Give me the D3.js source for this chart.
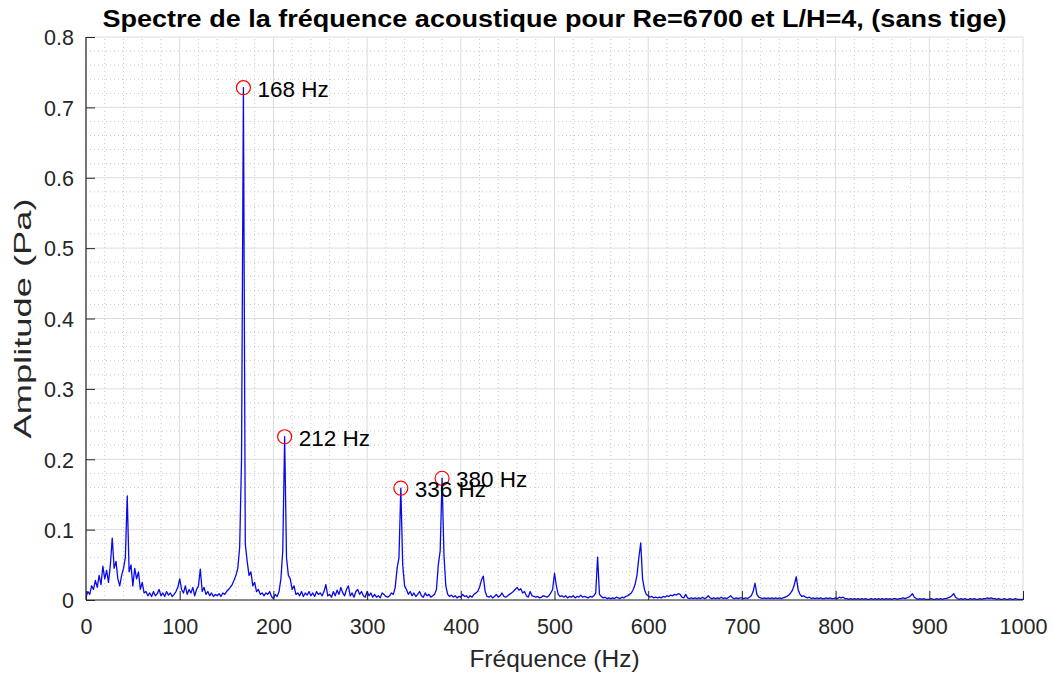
<!DOCTYPE html>
<html>
<head>
<meta charset="utf-8">
<script src="https://cdn.jsdelivr.net/npm/d3@7/dist/d3.min.js"></script>
<style>
  html, body { margin: 0; padding: 0; background: #ffffff; }
  svg { display: block; font-family: "Liberation Sans", Arial, Helvetica, sans-serif; }
</style>
</head>
<body>
<svg id="chart" width="1053" height="673"></svg>
<script>
// Spectrum sampled every 2 Hz from 0 to 1000 Hz; one row per 100 Hz band.
const freqStep = 2;
const amplitude = [
  // 0 - 98 Hz
  0.004, 0.012, 0.008, 0.020, 0.015, 0.028, 0.018, 0.035, 0.022, 0.048,
  0.030, 0.042, 0.025, 0.050, 0.088, 0.045, 0.055, 0.030, 0.020, 0.035,
  0.045, 0.060, 0.148, 0.040, 0.050, 0.020, 0.045, 0.030, 0.040, 0.015,
  0.025, 0.010, 0.012, 0.006, 0.010, 0.005, 0.012, 0.006, 0.009, 0.015,
  0.006, 0.010, 0.005, 0.012, 0.007, 0.010, 0.005, 0.008, 0.012, 0.018,
  // 100 - 198 Hz
  0.030, 0.015, 0.010, 0.020, 0.008, 0.015, 0.010, 0.018, 0.006, 0.015,
  0.020, 0.044, 0.012, 0.018, 0.008, 0.012, 0.006, 0.010, 0.005, 0.008,
  0.006, 0.009, 0.005, 0.010, 0.008, 0.012, 0.015, 0.018, 0.022, 0.028,
  0.035, 0.045, 0.075, 0.200, 0.728, 0.080, 0.055, 0.035, 0.040, 0.020,
  0.025, 0.012, 0.015, 0.008, 0.010, 0.006, 0.010, 0.008, 0.012, 0.005,
  // 200 - 298 Hz
  0.002, 0.008, 0.005, 0.012, 0.030, 0.070, 0.232, 0.060, 0.035, 0.030,
  0.015, 0.020, 0.008, 0.010, 0.006, 0.012, 0.005, 0.010, 0.007, 0.012,
  0.006, 0.010, 0.005, 0.012, 0.008, 0.010, 0.006, 0.012, 0.022, 0.006,
  0.008, 0.004, 0.012, 0.006, 0.014, 0.008, 0.018, 0.010, 0.006, 0.015,
  0.020, 0.006, 0.010, 0.004, 0.012, 0.015, 0.008, 0.012, 0.006, 0.004,
  // 300 - 398 Hz
  0.012, 0.006, 0.010, 0.004, 0.008, 0.004, 0.006, 0.003, 0.010, 0.008,
  0.005, 0.004, 0.006, 0.010, 0.008, 0.018, 0.045, 0.060, 0.159, 0.050,
  0.020, 0.015, 0.008, 0.012, 0.006, 0.010, 0.005, 0.008, 0.012, 0.006,
  0.004, 0.010, 0.006, 0.008, 0.004, 0.006, 0.008, 0.015, 0.050, 0.070,
  0.173, 0.065, 0.020, 0.008, 0.005, 0.007, 0.004, 0.006, 0.003, 0.005,
  // 400 - 498 Hz
  0.004, 0.008, 0.005, 0.006, 0.003, 0.006, 0.004, 0.008, 0.010, 0.012,
  0.018, 0.028, 0.034, 0.012, 0.005, 0.004, 0.006, 0.003, 0.005, 0.008,
  0.004, 0.006, 0.010, 0.005, 0.004, 0.006, 0.008, 0.010, 0.012, 0.015,
  0.018, 0.014, 0.016, 0.010, 0.012, 0.006, 0.004, 0.012, 0.006, 0.005,
  0.004, 0.005, 0.003, 0.004, 0.006, 0.005, 0.004, 0.006, 0.010, 0.015,
  // 500 - 598 Hz
  0.038, 0.020, 0.008, 0.005, 0.006, 0.004, 0.006, 0.003, 0.005, 0.004,
  0.006, 0.003, 0.005, 0.004, 0.007, 0.004, 0.005, 0.004, 0.003, 0.005,
  0.004, 0.006, 0.010, 0.061, 0.008, 0.005, 0.003, 0.004, 0.002, 0.003,
  0.002, 0.003, 0.002, 0.004, 0.003, 0.002, 0.004, 0.003, 0.005, 0.006,
  0.008, 0.010, 0.015, 0.022, 0.035, 0.060, 0.081, 0.030, 0.015, 0.008,
  // 600 - 698 Hz
  0.006, 0.004, 0.005, 0.003, 0.004, 0.003, 0.004, 0.003, 0.005, 0.004,
  0.006, 0.005, 0.007, 0.006, 0.008, 0.007, 0.009, 0.008, 0.004, 0.003,
  0.008, 0.003, 0.002, 0.003, 0.002, 0.003, 0.002, 0.003, 0.002, 0.004,
  0.002, 0.003, 0.006, 0.003, 0.002, 0.003, 0.002, 0.003, 0.002, 0.004,
  0.002, 0.003, 0.002, 0.004, 0.006, 0.003, 0.002, 0.003, 0.002, 0.003,
  // 700 - 798 Hz
  0.003, 0.002, 0.003, 0.002, 0.004, 0.006, 0.012, 0.024, 0.008, 0.004,
  0.003, 0.002, 0.003, 0.002, 0.003, 0.002, 0.003, 0.002, 0.003, 0.002,
  0.003, 0.002, 0.003, 0.004, 0.005, 0.007, 0.010, 0.014, 0.022, 0.033,
  0.015, 0.008, 0.005, 0.006, 0.004, 0.003, 0.004, 0.002, 0.003, 0.002,
  0.003, 0.002, 0.003, 0.002, 0.002, 0.003, 0.002, 0.003, 0.002, 0.002,
  // 800 - 898 Hz
  0.003, 0.002, 0.004, 0.003, 0.004, 0.002, 0.002, 0.001, 0.002, 0.001,
  0.002, 0.001, 0.002, 0.001, 0.002, 0.001, 0.002, 0.001, 0.001, 0.002,
  0.001, 0.002, 0.001, 0.002, 0.001, 0.002, 0.001, 0.002, 0.001, 0.002,
  0.001, 0.002, 0.002, 0.001, 0.002, 0.002, 0.003, 0.002, 0.003, 0.004,
  0.006, 0.009, 0.004, 0.002, 0.001, 0.002, 0.001, 0.002, 0.001, 0.001,
  // 900 - 1000 Hz
  0.001, 0.002, 0.001, 0.001, 0.002, 0.001, 0.002, 0.001, 0.002, 0.002,
  0.003, 0.004, 0.006, 0.009, 0.004, 0.002, 0.001, 0.002, 0.001, 0.002,
  0.001, 0.001, 0.002, 0.001, 0.002, 0.001, 0.001, 0.002, 0.001, 0.002,
  0.002, 0.003, 0.002, 0.003, 0.002, 0.002, 0.001, 0.002, 0.001, 0.001,
  0.002, 0.001, 0.001, 0.002, 0.001, 0.001, 0.002, 0.001, 0.001, 0.001,
  0.001
];

// Frequencies marked with a circle and a label
const peakFreqs = [168, 212, 336, 380];
const peakLabels = ["168 Hz", "212 Hz", "336 Hz", "380 Hz"];

const xTicks = [0, 100, 200, 300, 400, 500, 600, 700, 800, 900, 1000];
const yTicks = [0, 0.1, 0.2, 0.3, 0.4, 0.5, 0.6, 0.7, 0.8];
const yTickLabels = ["0", "0.1", "0.2", "0.3", "0.4", "0.5", "0.6", "0.7", "0.8"];

const titleText = "Spectre de la fréquence acoustique pour Re=6700 et L/H=4, (sans tige)";
const xLabel = "Fréquence (Hz)";
const yLabel = "Amplitude (Pa)";

const series = amplitude.map((a, i) => ({ f: i * freqStep, a: a }));

const svg = d3.select("#chart");
const margin = { left: 86, right: 30, top: 37, bottom: 73 };
const W = 1053, H = 673;
const x = d3.scaleLinear().domain([0, 1000]).range([margin.left, W - margin.right]);
const y = d3.scaleLinear().domain([0, 0.8]).range([H - margin.bottom, margin.top]);

const axisColor = "#262626";

// Minor grid (dotted)
const minorX = d3.range(0, 1001, 20).filter(v => v % 100 !== 0);
const minorY = d3.range(0, 41, 1).map(v => v * 0.02).filter((v, i) => i % 5 !== 0);
const grid = svg.append("g");
grid.selectAll("line.mx").data(minorX).join("line")
  .attr("x1", d => x(d)).attr("x2", d => x(d))
  .attr("y1", y(0)).attr("y2", y(0.8))
  .attr("stroke", "#c8c8c8").attr("stroke-width", 1).attr("stroke-dasharray", "1,3");
grid.selectAll("line.my").data(minorY).join("line")
  .attr("x1", x(0)).attr("x2", x(1000))
  .attr("y1", d => y(d)).attr("y2", d => y(d))
  .attr("stroke", "#c8c8c8").attr("stroke-width", 1).attr("stroke-dasharray", "1,3");

// Major grid (solid, light)
grid.selectAll("line.Mx").data(xTicks).join("line")
  .attr("x1", d => x(d)).attr("x2", d => x(d))
  .attr("y1", y(0)).attr("y2", y(0.8))
  .attr("stroke", "#dcdcdc").attr("stroke-width", 1);
grid.selectAll("line.My").data(yTicks).join("line")
  .attr("x1", x(0)).attr("x2", x(1000))
  .attr("y1", d => y(d)).attr("y2", d => y(d))
  .attr("stroke", "#dcdcdc").attr("stroke-width", 1);

// Spectrum line
svg.append("defs").append("clipPath").attr("id", "plotclip")
  .append("rect").attr("x", x(0)).attr("y", y(0.8) - 2)
  .attr("width", x(1000) - x(0)).attr("height", y(0) - y(0.8) + 4);

const line = d3.line().x(d => x(d.f)).y(d => y(d.a));
svg.append("path")
  .datum(series)
  .attr("clip-path", "url(#plotclip)")
  .attr("fill", "none")
  .attr("stroke", "#0a0ae6")
  .attr("stroke-width", 1.3)
  .attr("stroke-linejoin", "round")
  .attr("d", line);

// Axes, ticks pointing inward
const xAxis = d3.axisBottom(x).tickValues(xTicks).tickSize(-9).tickPadding(20)
  .tickFormat(d3.format("d"));
const gx = svg.append("g").attr("transform", `translate(0,${y(0)})`).call(xAxis);
const yAxis = d3.axisLeft(y).tickValues(yTicks).tickSize(-9).tickPadding(20)
  .tickFormat((d, i) => yTickLabels[i]);
const gy = svg.append("g").attr("transform", `translate(${x(0)},0)`).call(yAxis);

[gx, gy].forEach(g => {
  g.select(".domain").attr("stroke", axisColor).attr("stroke-width", 1.2);
  g.selectAll(".tick line").attr("stroke", axisColor).attr("stroke-width", 1);
  g.selectAll(".tick text").attr("fill", axisColor)
    .attr("font-size", 21.5).attr("font-family", "Liberation Sans, Arial, sans-serif");
});
gx.select(".domain").attr("d", `M${x(0)},0H${x(1000)}`);
gy.select(".domain").attr("d", `M0,${y(0)}V${y(0.8)}`);
gx.selectAll(".tick text").attr("y", 19).attr("dy", "0.71em");
gy.selectAll(".tick text").attr("x", -12).attr("dy", "0.36em");

// Peak markers and labels
const peaks = peakFreqs.map((f, i) => ({
  f: f,
  a: series.find(p => p.f === f).a,
  label: peakLabels[i]
}));
const pk = svg.append("g");
pk.selectAll("circle").data(peaks).join("circle")
  .attr("cx", d => x(d.f)).attr("cy", d => y(d.a)).attr("r", 7)
  .attr("fill", "none").attr("stroke", "#ff0000").attr("stroke-width", 1.2);
pk.selectAll("text").data(peaks).join("text")
  .attr("x", d => x(d.f) + 14).attr("y", d => y(d.a) + 9)
  .attr("font-size", 22.5).attr("fill", "#000")
  .text(d => d.label);

// Title
svg.append("text")
  .attr("x", (x(0) + x(1000)) / 2).attr("y", 27)
  .attr("text-anchor", "middle")
  .attr("font-size", 23.5).attr("font-weight", "bold").attr("fill", "#000")
  .attr("textLength", 904).attr("lengthAdjust", "spacingAndGlyphs")
  .text(titleText);

// Axis titles
svg.append("text")
  .attr("x", (x(0) + x(1000)) / 2).attr("y", 667)
  .attr("text-anchor", "middle").attr("font-size", 24.5).attr("fill", axisColor)
  .text(xLabel);
svg.append("text")
  .attr("transform", `translate(31,${(y(0) + y(0.8)) / 2}) rotate(-90)`)
  .attr("text-anchor", "middle").attr("font-size", 24).attr("fill", axisColor)
  .attr("textLength", 240).attr("lengthAdjust", "spacingAndGlyphs")
  .text(yLabel);
</script>
</body>
</html>
